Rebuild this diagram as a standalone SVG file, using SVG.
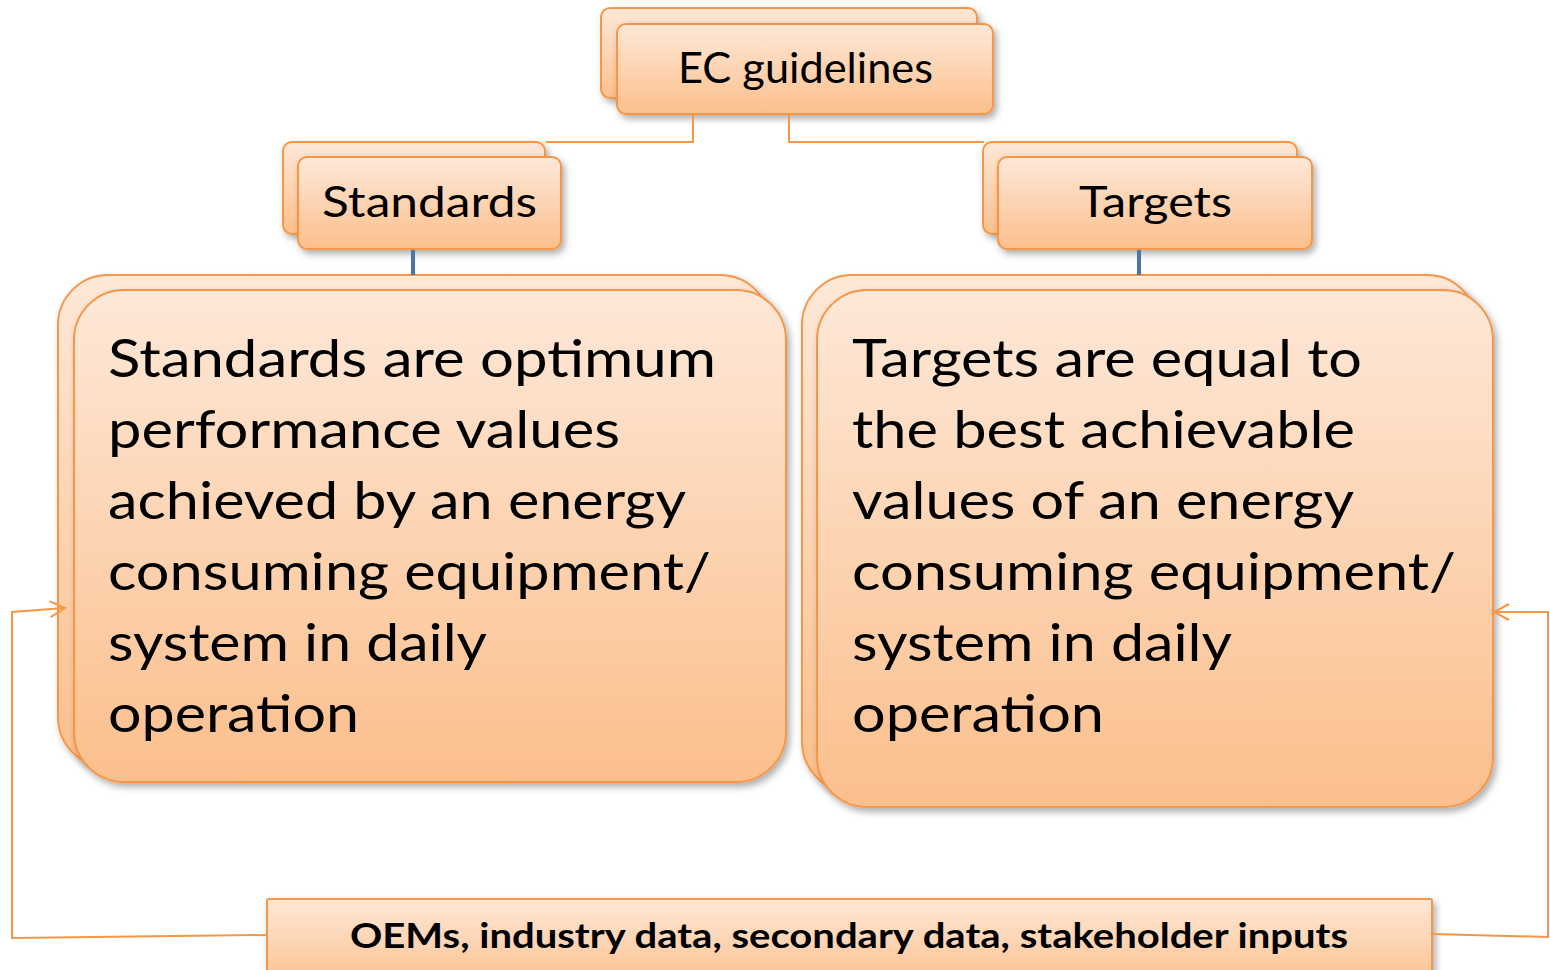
<svg xmlns="http://www.w3.org/2000/svg" width="1550" height="970" viewBox="0 0 1550 970">
  <defs>
    <linearGradient id="peach" x1="0" y1="0" x2="0" y2="1">
      <stop offset="0" stop-color="#fee8d8"/>
      <stop offset="1" stop-color="#fbbf8c"/>
    </linearGradient>
    <filter id="shadow" x="-10%" y="-10%" width="120%" height="130%">
      <feDropShadow dx="3" dy="4" stdDeviation="3.5" flood-color="#000" flood-opacity="0.32"/>
    </filter>
    <marker id="openArrow" markerWidth="20" markerHeight="20" refX="16" refY="9" orient="auto" markerUnits="userSpaceOnUse">
      <path d="M1,1 L16,9 L1,17" fill="none" stroke="#f79646" stroke-width="2"/>
    </marker>
    <style>
      .box { fill: url(#peach); stroke: #f79646; stroke-width: 2; filter: url(#shadow); }
      .link { fill: none; stroke: #f79646; stroke-width: 2; }
      .stem { fill: none; stroke: #4a76a8; stroke-width: 4; }
      .title { font-family: Lato, "Liberation Sans", sans-serif; font-size: 43px; fill: #000; }
      .body { font-family: Lato, "Liberation Sans", sans-serif; font-size: 52px; fill: #000; }
      .src { font-family: Lato, "Liberation Sans", sans-serif; font-size: 35px; font-weight: bold; fill: #000; }
    </style>
  </defs>

  <rect width="1550" height="970" fill="#ffffff"/>

  <!-- EC guidelines -->
  <g id="ec-guidelines">
    <rect class="box" x="601" y="8" width="376" height="90" rx="9"/>
    <rect class="box" x="617" y="24" width="376" height="90" rx="9"/>
    <text class="title" x="678" y="83" textLength="255" lengthAdjust="spacingAndGlyphs">EC guidelines</text>
  </g>

  <!-- Standards -->
  <g id="standards">
    <rect class="box" x="283" y="142" width="262" height="92" rx="9"/>
    <rect class="box" x="298" y="157" width="263" height="92" rx="9"/>
    <text class="title" x="322" y="217" textLength="215" lengthAdjust="spacingAndGlyphs">Standards</text>
  </g>

  <!-- Targets -->
  <g id="targets">
    <rect class="box" x="983" y="142" width="314" height="92" rx="9"/>
    <rect class="box" x="998" y="157" width="314" height="92" rx="9"/>
    <text class="title" x="1079" y="217" textLength="153" lengthAdjust="spacingAndGlyphs">Targets</text>
  </g>

  <!-- Standards definition -->
  <g id="standards-detail">
    <rect class="box" x="58" y="275" width="712" height="492" rx="50"/>
    <rect class="box" x="74" y="290" width="712" height="492" rx="50"/>
    <text class="body" x="108" y="377" textLength="608" lengthAdjust="spacingAndGlyphs">Standards are optimum</text>
    <text class="body" x="108" y="448" textLength="512" lengthAdjust="spacingAndGlyphs">performance values</text>
    <text class="body" x="108" y="519" textLength="578" lengthAdjust="spacingAndGlyphs">achieved by an energy</text>
    <text class="body" x="108" y="590" textLength="603" lengthAdjust="spacingAndGlyphs">consuming equipment/</text>
    <text class="body" x="108" y="661" textLength="379" lengthAdjust="spacingAndGlyphs">system in daily</text>
    <text class="body" x="108" y="732" textLength="251" lengthAdjust="spacingAndGlyphs">operation</text>
  </g>

  <!-- Targets definition -->
  <g id="targets-detail">
    <rect class="box" x="802" y="275" width="675" height="517" rx="50"/>
    <rect class="box" x="817" y="290" width="676" height="517" rx="50"/>
    <text class="body" x="852" y="377" textLength="510" lengthAdjust="spacingAndGlyphs">Targets are equal to</text>
    <text class="body" x="852" y="448" textLength="503" lengthAdjust="spacingAndGlyphs">the best achievable</text>
    <text class="body" x="852" y="519" textLength="502" lengthAdjust="spacingAndGlyphs">values of an energy</text>
    <text class="body" x="852" y="590" textLength="604" lengthAdjust="spacingAndGlyphs">consuming equipment/</text>
    <text class="body" x="852" y="661" textLength="380" lengthAdjust="spacingAndGlyphs">system in daily</text>
    <text class="body" x="852" y="732" textLength="252" lengthAdjust="spacingAndGlyphs">operation</text>
  </g>

  <!-- Data sources -->
  <g id="data-sources">
    <rect class="box" x="267" y="899" width="1165" height="90" rx="2"/>
    <text class="src" x="350" y="948" textLength="998" lengthAdjust="spacingAndGlyphs">OEMs, industry data, secondary data, stakeholder inputs</text>
  </g>

  <!-- connectors, drawn over the boxes so the arrowheads stay visible -->
  <g id="connectors">
    <polyline class="link" points="693,115 693,142 546,142"/>
    <polyline class="link" points="789,115 789,142 984,142"/>
    <line class="stem" x1="413" y1="250" x2="413" y2="275"/>
    <line class="stem" x1="1139" y1="250" x2="1139" y2="275"/>
    <polyline class="link" points="266,935 12,938 12,612 65,608" marker-end="url(#openArrow)"/>
    <polyline class="link" points="1433,934 1548,937 1548,612 1494,612" marker-end="url(#openArrow)"/>
  </g>
</svg>
